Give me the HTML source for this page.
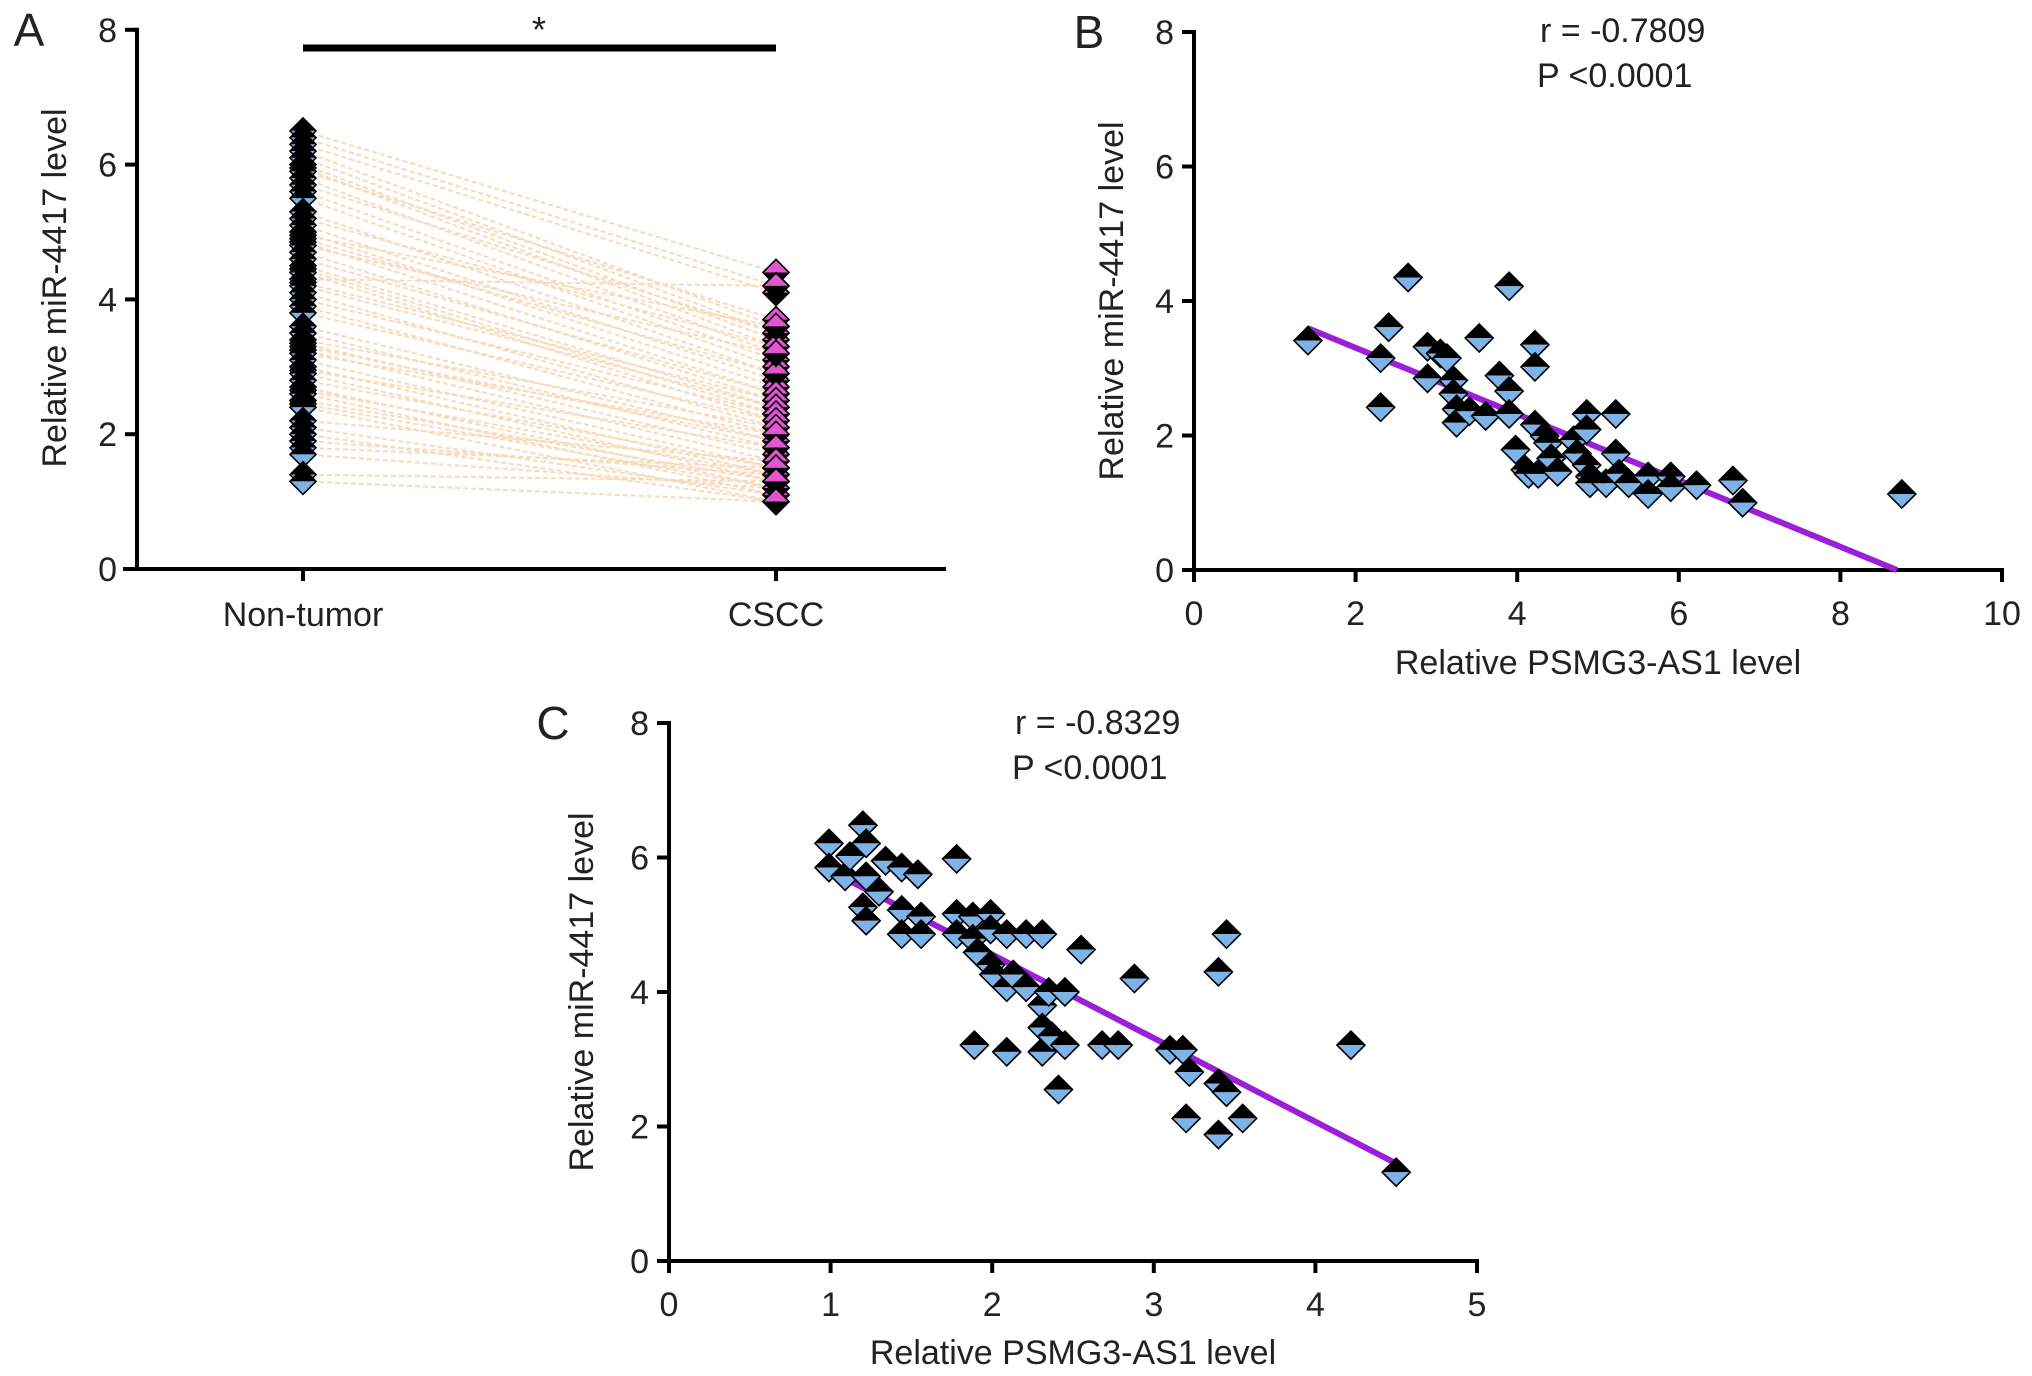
<!DOCTYPE html>
<html><head><meta charset="utf-8"><style>
html,body{margin:0;padding:0;background:#fff}
svg{display:block}
text{font-family:"Liberation Sans",Arial,sans-serif;fill:#222}
</style></head><body>
<svg id="fig" width="2032" height="1376" viewBox="0 0 2032 1376" xmlns="http://www.w3.org/2000/svg">
<rect width="2032" height="1376" fill="#fff"/>
<g id="gA"></g>
<g id="gB"></g>
<g id="gC"></g>
</svg>
<script>
const categoriesA = ["Non-tumor","CSCC"];
const nonTumorA = [6.5,6.4,6.3,6.2,6.1,6.0,5.95,5.9,5.8,5.7,5.6,5.5,5.3,5.2,5.1,5.0,4.95,4.9,4.85,4.8,4.7,4.6,4.5,4.45,4.4,4.3,4.25,4.2,4.1,4.0,3.9,3.8,3.6,3.5,3.4,3.35,3.3,3.25,3.2,3.1,3.0,2.95,2.9,2.8,2.7,2.65,2.6,2.5,2.45,2.4,2.2,2.1,2.0,1.9,1.8,1.7,1.4,1.3];
const csccA = [4.4,4.2,4.1,3.6,3.5,3.4,3.3,3.7,3.2,3.5,3.1,3.0,2.9,3.3,2.8,2.7,3.6,2.9,2.6,3.2,2.5,2.6,2.4,2.3,2.2,4.2,2.5,2.4,2.1,2.3,2.0,2.2,1.9,1.8,2.1,1.7,1.9,1.6,2.0,1.5,1.4,1.8,1.3,1.5,1.2,1.4,1.1,1.3,1.2,1.0,1.6,1.1,1.0,1.4,1.5,1.2,1.3,1.0];
const yTicks = [0,2,4,6,8];
const xTicksB = [0,2,4,6,8,10];
const xTicksC = [0,1,2,3,4,5];
const bX = [1.41,2.31,2.31,2.41,2.65,2.89,2.89,3.05,3.13,3.21,3.21,3.25,3.25,3.41,3.53,3.61,3.78,3.90,3.90,3.90,3.98,4.10,4.14,4.22,4.22,4.22,4.26,4.34,4.38,4.42,4.50,4.70,4.74,4.86,4.86,4.86,4.90,4.90,5.10,5.22,5.22,5.26,5.38,5.62,5.62,5.90,5.90,6.22,6.67,6.79,8.76];
const bY = [3.41,3.15,2.42,3.61,4.35,3.32,2.85,3.22,3.15,2.82,2.62,2.39,2.19,2.36,3.45,2.29,2.89,4.22,2.66,2.32,1.79,1.49,1.43,3.35,3.02,2.16,1.43,1.99,1.89,1.66,1.46,1.93,1.73,2.32,2.09,1.56,1.39,1.29,1.29,2.32,1.73,1.43,1.29,1.39,1.13,1.39,1.23,1.26,1.33,1.00,1.13];
const fitBX = [1.4,8.7];
const fitBY = [3.6,0];
const cX = [0.99,0.99,1.09,1.12,1.20,1.20,1.22,1.22,1.22,1.30,1.34,1.44,1.44,1.44,1.54,1.56,1.56,1.78,1.78,1.78,1.88,1.88,1.89,1.91,1.99,1.99,1.99,2.01,2.09,2.09,2.09,2.13,2.21,2.21,2.31,2.31,2.31,2.31,2.35,2.37,2.41,2.45,2.45,2.55,2.68,2.78,2.88,3.10,3.18,3.22,3.20,3.40,3.40,3.40,3.45,3.45,3.55,4.22,4.50];
const cY = [6.21,5.85,5.72,6.02,6.48,5.26,5.06,6.21,5.72,5.49,5.95,5.85,5.22,4.86,5.75,5.12,4.86,5.98,5.16,4.86,5.12,4.79,3.21,4.59,5.16,4.93,4.40,4.26,4.86,4.07,3.11,4.26,4.86,4.07,4.86,3.80,3.47,3.11,4.00,3.34,2.55,3.21,4.00,4.63,3.21,3.21,4.20,3.14,3.14,2.81,2.12,4.30,2.64,1.88,4.86,2.51,2.12,3.21,1.32];
const fitCX = [1.12,4.5];
const fitCY = [5.65,1.45];

const NS="http://www.w3.org/2000/svg";
function mk(parent,tag,attrs,txt){const e=document.createElementNS(NS,tag);for(const k in attrs)e.setAttribute(k,attrs[k]);if(txt!==undefined)e.textContent=txt;parent.appendChild(e);return e;}
function diamond(g,cx,cy,h,top,bot,name){
  const d=mk(g,'g',{});
  
  
  mk(d,'polygon',{points:`${cx-h},${cy} ${cx},${cy-h} ${cx+h},${cy}`,fill:top});
  mk(d,'polygon',{points:`${cx-h},${cy} ${cx+h},${cy} ${cx},${cy+h}`,fill:bot});
  mk(d,'polygon',{points:`${cx-h},${cy} ${cx},${cy-h} ${cx+h},${cy} ${cx},${cy+h}`,fill:'none',stroke:'#000','stroke-width':1.6});
}
const FS=34;
function yAxis(g,x0,yS){
  const ax=mk(g,'line',{x1:x0,y1:yS(8)-2,x2:x0,y2:yS(0)+2,stroke:'#000','stroke-width':4});
  
  
  yTicks.forEach(t=>{
    mk(g,'line',{x1:x0-12,y1:yS(t),x2:x0,y2:yS(t),stroke:'#000','stroke-width':4});
    const tl=mk(g,'text',{x:x0-20,y:yS(t)+12,'text-anchor':'end','font-size':FS},t);
    
    
  });
}
function yTitle(g,x,y){
  const t=mk(g,'text',{x:0,y:0,'text-anchor':'middle','font-size':FS,transform:`translate(${x},${y}) rotate(-90)`},'Relative miR-4417 level');
  
  
}
function panelLabel(g,x,y,s){
  const t=mk(g,'text',{x:x,y:y,'text-anchor':'middle','font-size':46},s);
  
  
}

// Panel A
(function(){
  const g=document.getElementById('gA');
  const yS=v=>569-v*67.4;
  const catX=[303,776];
  panelLabel(g,29,46,'A');
  yAxis(g,137,yS);
  const xa=mk(g,'line',{x1:123,y1:569,x2:946,y2:569,stroke:'#000','stroke-width':4});
  
  
  categoriesA.forEach((c,i)=>{
    mk(g,'line',{x1:catX[i],y1:569,x2:catX[i],y2:581,stroke:'#000','stroke-width':4});
    const t=mk(g,'text',{x:catX[i],y:626,'text-anchor':'middle','font-size':FS},c);
    
    
  });
  yTitle(g,66,288);
  const bar=mk(g,'line',{x1:catX[0],y1:48,x2:catX[1],y2:48,stroke:'#000','stroke-width':7});
  
  
  const st=mk(g,'text',{x:539,y:42,'text-anchor':'middle','font-size':36},'*');
  
  
  const n=Math.min(nonTumorA.length,csccA.length);
  for(let i=0;i<n;i++){
    const l=mk(g,'line',{x1:catX[0],y1:yS(nonTumorA[i]),x2:catX[1],y2:yS(csccA[i]),stroke:'#fbd9b8','stroke-width':2,'stroke-dasharray':'5 3'});
    
    
  }
  nonTumorA.forEach(v=>diamond(g,catX[0],yS(v),13,'#000','#7db3e6','non-tumor-point'));
  csccA.forEach(v=>diamond(g,catX[1],yS(v),13,'#e256d2','#000','cscc-point'));
})();

function scatter(g,x0,x1,xmax,ticks,y0,y8,xs,ys,fx,fy,r,p,tx,ty,titleY,titleX,lbl,lblX){
  const xS=v=>x0+(x1-x0)*v/xmax, yS=v=>y0-(y0-y8)*v/8;
  panelLabel(g,lblX,y8+16,lbl);
  yAxis(g,x0,yS);
  const xa=mk(g,'line',{x1:x0-2,y1:y0,x2:x1+2,y2:y0,stroke:'#000','stroke-width':4});
  
  
  ticks.forEach(t=>{
    mk(g,'line',{x1:xS(t),y1:y0,x2:xS(t),y2:y0+12,stroke:'#000','stroke-width':4});
    const tl=mk(g,'text',{x:xS(t),y:y0+55,'text-anchor':'middle','font-size':FS},t);
    
    
  });
  const xt=mk(g,'text',{x:(x0+x1)/2,y:titleY,'text-anchor':'middle','font-size':FS},'Relative PSMG3-AS1 level');
  
  
  yTitle(g,titleX,(y0+y8)/2);
  const rt=mk(g,'text',{x:tx+3,y:ty,'font-size':FS},r);
  
  
  const pt=mk(g,'text',{x:tx,y:ty+45,'font-size':FS},p);
  
  
  const fl=mk(g,'line',{x1:xS(fx[0]),y1:yS(fy[0]),x2:xS(fx[1]),y2:yS(fy[1]),stroke:'#9b1fd6','stroke-width':6});
  
  
  xs.forEach((v,i)=>diamond(g,xS(v),yS(ys[i]),14,'#000','#7db3e6','scatter-point'));
}
scatter(document.getElementById('gB'),1194,2002,10,xTicksB,570,32,bX,bY,fitBX,fitBY,'r = -0.7809','P <0.0001',1537,42,674,1123,'B',1089);
scatter(document.getElementById('gC'),669,1477,5,xTicksC,1261,723,cX,cY,fitCX,fitCY,'r = -0.8329','P <0.0001',1012,734,1364,593,'C',553);
</script>
</body></html>
